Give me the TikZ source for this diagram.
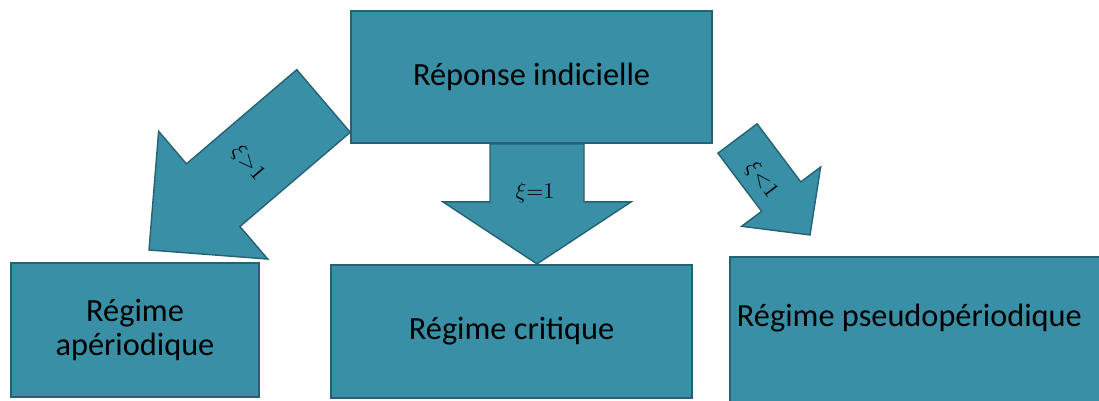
\RequirePackage{fix-cm}
\documentclass[tikz,border=0pt]{standalone}
\usepackage{fontspec}
\setmainfont{Carlito}
\usetikzlibrary{calc}

\definecolor{bleu}{RGB}{57,143,166}
\definecolor{bleufonce}{RGB}{38,98,116}

% block arrow: tail, tip, half shaft, half head, head length
\newcommand{\blocfleche}[5]{%
  \coordinate (base) at ($(#2)!#5!(#1)$);
  \filldraw[fleche] ($(#1)!#3!90:(#2)$) -- ($(base)!#3!90:(#2)$)
    -- ($(base)!#4!90:(#2)$) -- (#2) -- ($(base)!#4!-90:(#2)$)
    -- ($(base)!#3!-90:(#2)$) -- ($(#1)!#3!-90:(#2)$) -- cycle;
}

\begin{document}
\begin{tikzpicture}[
    boite/.style={draw=bleufonce,fill=bleu,line width=1.5pt,
      font=\fontsize{23}{24}\selectfont},
    fleche/.style={draw=bleufonce,fill=bleu,line width=1pt,line join=miter},
    cond/.style={font=\fontsize{16}{18}\selectfont}]

   \useasboundingbox (0,0) rectangle (27.475,10.025);
   \clip (0,0) rectangle (27.475,10.025);

   % the boxes
   \node[boite,minimum width=9.025cm,minimum height=3.3cm] (rep) at (13.29,8.1) {Réponse indicielle};
   \node[boite,minimum width=6.2cm,minimum height=3.35cm,align=center] (aper) at (3.375,1.775) {Régime\\apériodique};
   \node[boite,minimum width=9.025cm,minimum height=3.325cm] (crit) at (12.79,1.7375) {Régime critique};
   \node[boite,minimum width=9.6cm,minimum height=3.9cm] (pseudo) at (23.05,1.65) {};
   \node[anchor=west,font=\fontsize{23}{24}\selectfont] (pseudotxt) at (18.3,2.075) {Régime pseudopériodique};

   % ends of the arrows
   \coordinate (q1) at (8.0875,7.5);
   \coordinate (p1) at (3.725,3.775);
   \coordinate (q2) at ($(rep.south)+(0.135,0)$);
   \coordinate (p2) at ($(crit.north)+(0.635,0)$);
   \coordinate (q3) at (18.4375,6.5625);
   \coordinate (p3) at (20.25,4.15);

   \blocfleche{q1}{p1}{1.03cm}{2.1cm}{2.11cm}
   \blocfleche{q2}{p2}{1.175cm}{2.35cm}{1.55cm}
   \blocfleche{q3}{p3}{0.6125cm}{1.235cm}{1.2cm}

   \node[cond,rotate=-49.4] (c1) at (6.2,5.95) {$\xi{>}1$};
   \node[cond] (c2) at (13.375,5.2) {$\xi{=}1$};
   \node[cond,rotate=-53] (c3) at (19.04,5.525) {$\xi{<}1$};

\end{tikzpicture}
\end{document}
